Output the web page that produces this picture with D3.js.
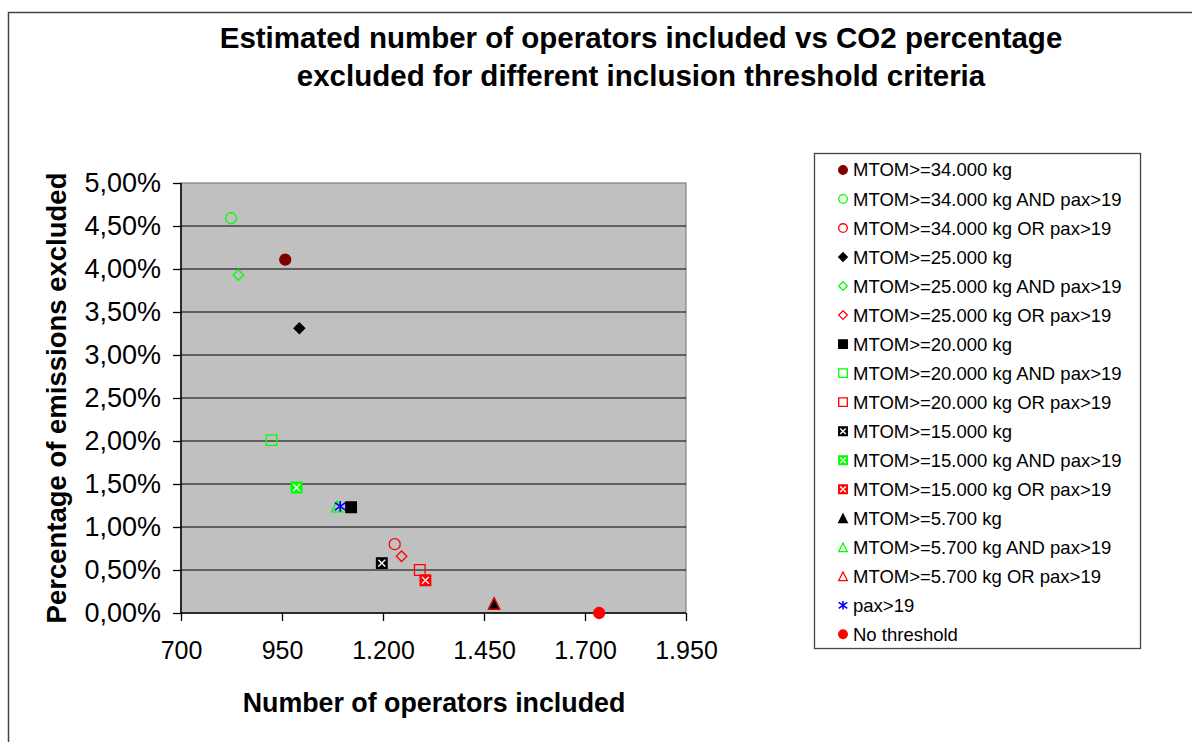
<!DOCTYPE html>
<html>
<head>
<meta charset="utf-8">
<script src="https://cdn.jsdelivr.net/npm/d3@7"></script>
<style>
  body { margin: 0; background: #fff; }
  text { font-family: Arial, "Liberation Sans", sans-serif; }
</style>
</head>
<body>
<div class="svgcontainer"></div>
<script>
// series, in legend order
const seriesNames = [
  "MTOM>=34.000 kg", "MTOM>=34.000 kg AND pax>19", "MTOM>=34.000 kg OR pax>19",
  "MTOM>=25.000 kg", "MTOM>=25.000 kg AND pax>19", "MTOM>=25.000 kg OR pax>19",
  "MTOM>=20.000 kg", "MTOM>=20.000 kg AND pax>19", "MTOM>=20.000 kg OR pax>19",
  "MTOM>=15.000 kg", "MTOM>=15.000 kg AND pax>19", "MTOM>=15.000 kg OR pax>19",
  "MTOM>=5.700 kg", "MTOM>=5.700 kg AND pax>19", "MTOM>=5.700 kg OR pax>19",
  "pax>19", "No threshold"
];
// number of operators included
const operators = [958, 824, 1229, 993, 842, 1246, 1121, 924, 1291, 1197, 986, 1305, 1475, 1086, 1475, 1094, 1735];
// share of emissions excluded (%)
const pctExcluded = [4.11, 4.59, 0.80, 3.31, 3.93, 0.66, 1.23, 2.01, 0.50, 0.58, 1.46, 0.38, 0.11, 1.24, 0.11, 1.24, 0.00];

const xTicks = [700, 950, 1200, 1450, 1700, 1950];
const yTicks = [0, 0.5, 1, 1.5, 2, 2.5, 3, 3.5, 4, 4.5, 5];

// marker look per series
const shapes = ["circle", "ocircle", "ocircle", "diamond", "odiamond", "odiamond",
  "square", "osquare", "osquare", "xsquare", "xsquare", "xsquare",
  "triangle", "otriangle", "otriangle", "star", "circle"];
const colors = ["#800000", "#00ff00", "#ff0000", "#000000", "#00ff00", "#ff0000",
  "#000000", "#00ff00", "#ff0000", "#000000", "#00ff00", "#ff0000",
  "#000000", "#00ff00", "#ff0000", "#0000ff", "#ff0000"];

const loc = d3.formatLocale({decimal: ",", thousands: ".", grouping: [3], currency: ["", ""]});
const fmtX = loc.format(",d");
const fmtY = v => loc.format(".2f")(v) + "%";

const W = 1192, H = 742;
const plot = {left: 181, top: 183, right: 686, bottom: 613};

const svg = d3.select('.svgcontainer')
  .append('svg')
  .attr('width', W)
  .attr('height', H);

// chart frame (runs off the right and bottom of the page)
svg.append('rect')
  .attr('x', 8.5).attr('y', 12.5)
  .attr('width', 1220).attr('height', 760)
  .attr('fill', 'none').attr('stroke', '#444').attr('stroke-width', 1.5);

const x = d3.scaleLinear().domain([700, 1950]).range([plot.left, plot.right]);
const y = d3.scaleLinear().domain([0, 5]).range([plot.bottom, plot.top]);

svg.append('rect')
  .attr('x', plot.left).attr('y', plot.top)
  .attr('width', plot.right - plot.left).attr('height', plot.bottom - plot.top)
  .attr('fill', '#c0c0c0').attr('stroke', '#808080').attr('stroke-width', 1.2);

// gridlines
svg.selectAll('.grid')
  .data(yTicks.filter(d => d > 0 && d < 5))
  .enter()
  .append('line')
  .attr('class', 'grid')
  .attr('x1', plot.left).attr('x2', plot.right)
  .attr('y1', d => y(d)).attr('y2', d => y(d))
  .attr('stroke', '#000').attr('stroke-width', 1.2);

const xAxis = svg.append('g')
  .attr('transform', `translate(0, ${plot.bottom})`)
  .call(d3.axisBottom(x).tickValues(xTicks).tickFormat(fmtX).tickSize(8).tickPadding(20));
const yAxis = svg.append('g')
  .attr('transform', `translate(${plot.left}, 0)`)
  .call(d3.axisLeft(y).tickValues(yTicks).tickFormat(fmtY).tickSize(8).tickPadding(12));

[xAxis, yAxis].forEach(a => {
  a.select('.domain').attr('stroke', '#000').attr('stroke-width', 1.5);
  a.selectAll('.tick line').attr('stroke', '#000').attr('stroke-width', 1.3);
  a.selectAll('.tick text')
    .attr('fill', '#000')
    .style('font-family', 'Arial, "Liberation Sans", sans-serif');
});
xAxis.selectAll('.tick text').style('font-size', '25px');
yAxis.selectAll('.tick text').style('font-size', '27px');
xAxis.select('.domain').attr('d', `M${plot.left},0H${plot.right}`);
yAxis.select('.domain').attr('d', `M0,${plot.top}V${plot.bottom}`);

function markerPath(shape, h) {
  switch (shape) {
    case 'circle': case 'ocircle':
      return `M${-h},0A${h},${h} 0 1,0 ${h},0A${h},${h} 0 1,0 ${-h},0Z`;
    case 'diamond': case 'odiamond':
      return `M0,${-h}L${h},0L0,${h}L${-h},0Z`;
    case 'square': case 'osquare': case 'xsquare':
      return `M${-h},${-h}H${h}V${h}H${-h}Z`;
    case 'triangle': case 'otriangle':
      return `M0,${-h}L${h},${h}H${-h}Z`;
    case 'star':
      return `M0,${-h}V${h}M${-h},${-h * 0.7}L${h},${h * 0.7}M${-h},${h * 0.7}L${h},${-h * 0.7}`;
  }
}

function drawMarker(g, i, h) {
  const s = shapes[i], c = colors[i];
  const filled = ['circle', 'diamond', 'square', 'triangle', 'xsquare'].includes(s);
  g.append('path')
    .attr('d', markerPath(s, h))
    .attr('fill', s === 'star' ? 'none' : (filled ? c : 'none'))
    .attr('stroke', c)
    .attr('stroke-width', s === 'star' ? 1.6 : 1.3);
  if (s === 'xsquare') {
    const k = h * 0.65;
    g.append('path')
      .attr('d', `M${-k},${-k}L${k},${k}M${-k},${k}L${k},${-k}`)
      .attr('stroke', '#fff').attr('stroke-width', 1.4);
  }
}

const points = svg.selectAll('.pt')
  .data(seriesNames.map((n, i) => i))
  .enter()
  .append('g')
  .attr('class', 'pt')
  .attr('transform', i => `translate(${x(operators[i])}, ${y(pctExcluded[i])})`);
points.each(function(i) {
  const g = d3.select(this);
  const h = shapes[i].includes('circle') || shapes[i].includes('triangle') ? 5.5 : 5.3;
  drawMarker(g, i, h);
});

// title
svg.append('text')
  .attr('x', 641).attr('y', 48)
  .attr('text-anchor', 'middle')
  .style('font-size', '29.5px').style('font-weight', 'bold')
  .text('Estimated number of operators included vs CO2 percentage');
svg.append('text')
  .attr('x', 641).attr('y', 86)
  .attr('text-anchor', 'middle')
  .style('font-size', '29.5px').style('font-weight', 'bold')
  .text('excluded for different inclusion threshold criteria');

// axis titles
svg.append('text')
  .attr('x', 434).attr('y', 712)
  .attr('text-anchor', 'middle')
  .style('font-size', '26.8px').style('font-weight', 'bold')
  .text('Number of operators included');
svg.append('text')
  .attr('transform', 'translate(66, 398) rotate(-90)')
  .attr('text-anchor', 'middle')
  .style('font-size', '27.5px').style('font-weight', 'bold')
  .text('Percentage of emissions excluded');

// legend
const legend = svg.append('g');
legend.append('rect')
  .attr('x', 814.5).attr('y', 153.5)
  .attr('width', 326).attr('height', 495)
  .attr('fill', '#fff').attr('stroke', '#444').attr('stroke-width', 1.3);

const rows = legend.selectAll('.row')
  .data(seriesNames.map((n, i) => i))
  .enter()
  .append('g')
  .attr('class', 'row')
  .attr('transform', i => `translate(843, ${170 + i * 29.02})`);
rows.each(function(i) {
  drawMarker(d3.select(this), i, 4.3);
});
rows.append('text')
  .attr('x', 10).attr('dy', '0.35em')
  .style('font-size', '18.5px')
  .text(i => seriesNames[i]);
</script>
</body>
</html>
